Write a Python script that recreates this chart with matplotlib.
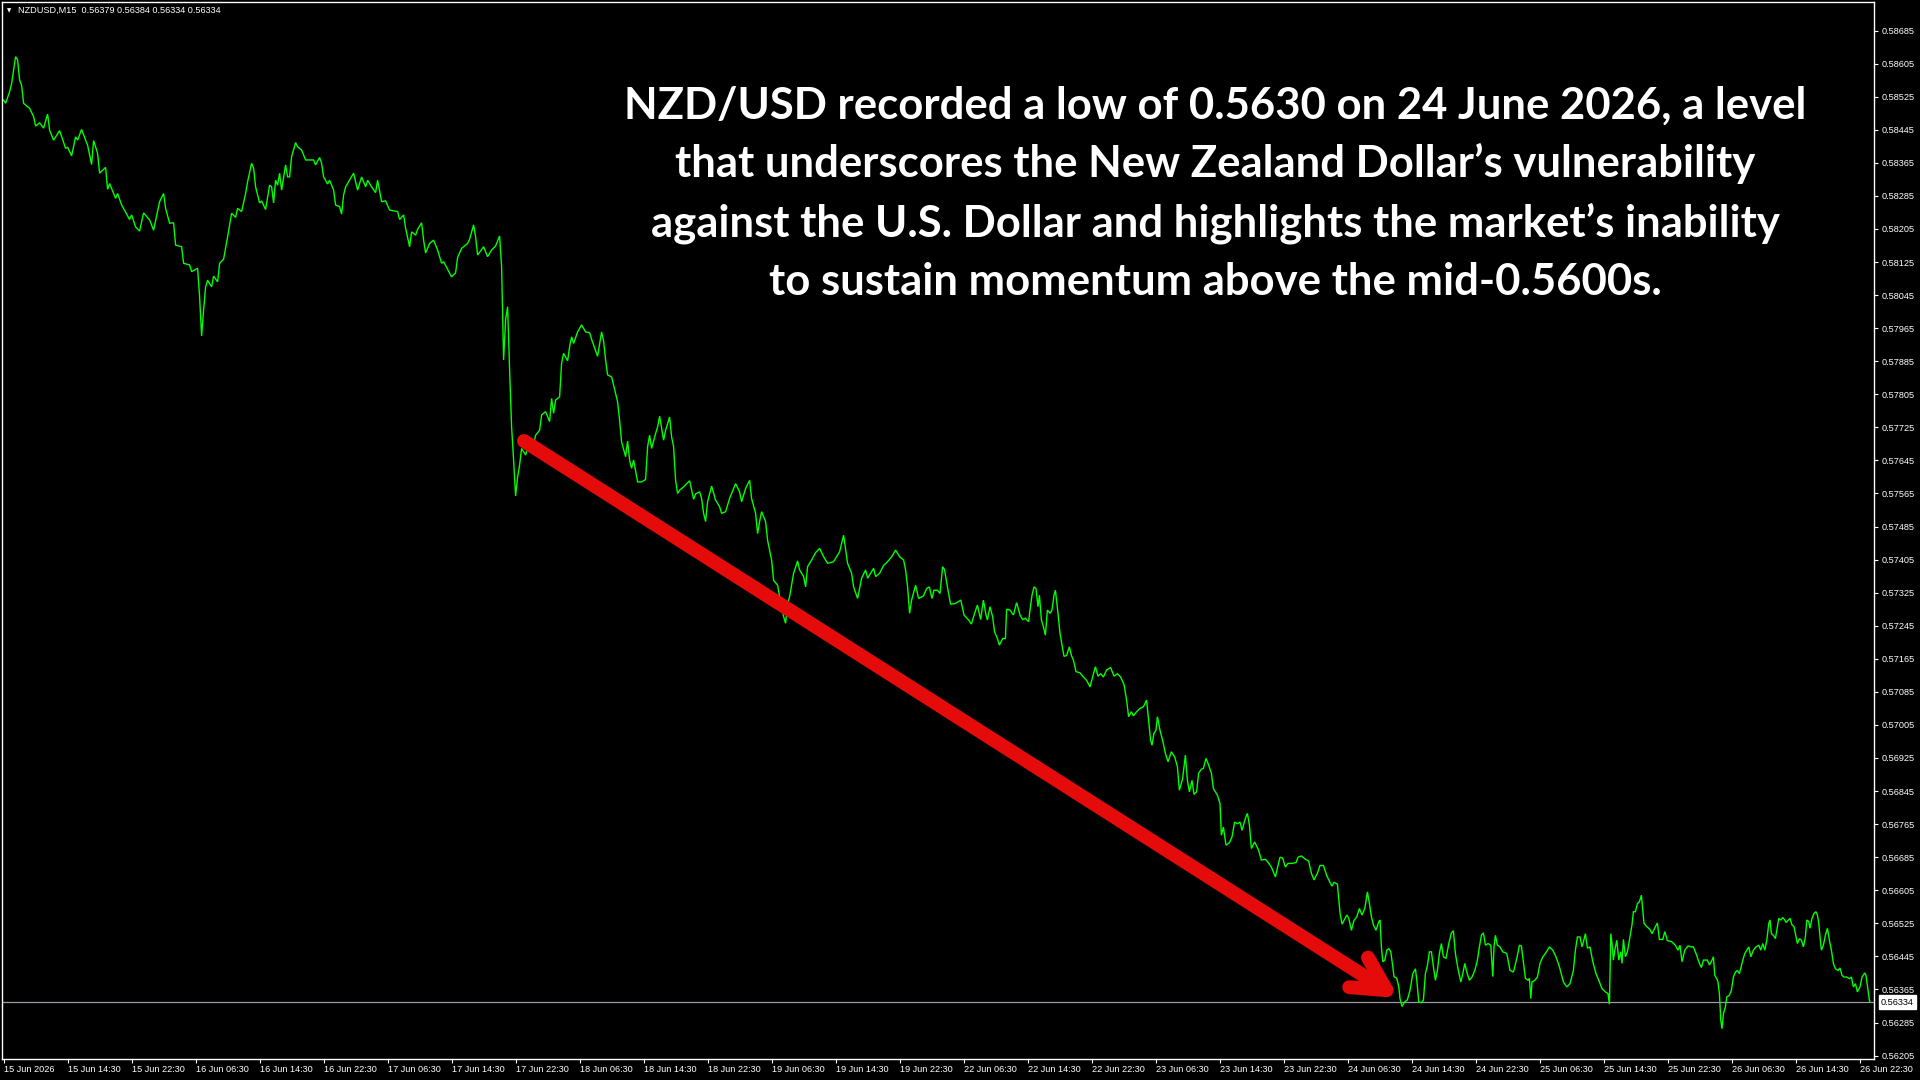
import numpy as np
import matplotlib
matplotlib.use("Agg")
import matplotlib.pyplot as plt

plt.rcParams['font.family'] = ['Liberation Sans', 'DejaVu Sans']

# ---------------- data (M15 bars, index from first bar) ----------------
bar = [0, 1, 3, 4, 6, 7, 8, 9, 10, 13, 15, 16, 18, 20, 22, 23, 25, 28, 31, 32, 34, 36, 37, 39, 41, 42, 44, 45, 47, 48,
       51, 52, 53, 56, 57, 59, 63, 64, 66, 68, 70, 73, 75, 78, 80, 81, 83, 85, 86, 89, 90, 93, 94, 97, 98, 99, 100, 101,
       102, 104, 105, 107, 108, 110, 112, 114, 116, 117, 119, 121, 122, 124, 125, 126, 128, 129, 131, 133, 134, 135, 136,
       137, 138, 139, 141, 142, 143, 144, 146, 147, 149, 151, 155, 156, 158, 159, 160, 162, 163, 165, 166, 168, 169, 170,
       171, 175, 177, 179, 181, 182, 184, 186, 187, 189, 191, 193, 197, 198, 200, 201, 203, 204, 206, 207, 209, 210, 211,
       213, 215, 217, 219, 220, 224, 226, 227, 229, 232, 233, 235, 236, 237, 240, 242, 244, 246, 248, 249, 250, 251, 252,
       253, 254, 255, 256, 257, 258, 259, 261, 262, 264, 266, 268, 269, 271, 273, 274, 275, 276, 278, 279, 280, 282, 283,
       284, 285, 287, 289, 291, 293, 294, 297, 299, 300, 301, 302, 304, 306, 307, 308, 309, 311, 312, 313, 314, 315, 317,
       319, 321, 322, 323, 324, 326, 327, 328, 330, 331, 333, 334, 335, 336, 337, 338, 340, 343, 345, 346, 348, 349, 350,
       351, 352, 354, 356, 358, 359, 361, 363, 364, 366, 368, 369, 371, 373, 374, 376, 377, 378, 379, 381, 382, 384, 385,
       387, 388, 390, 391, 392, 393, 395, 397, 398, 400, 401, 402, 404, 406, 408, 410, 412, 415, 418, 420, 422, 424, 425,
       427, 429, 431, 432, 434, 435, 436, 438, 440, 442, 444, 446, 448, 450, 451, 452, 453, 454, 456,
       457.5, 459.9, 461.5, 462.9, 464.2, 465.2, 466.9, 468.2, 469.5, 470.5, 471.9, 473.5, 475.9, 478.6, 480.2, 482.5,
       483.9, 485.5, 486.9, 488.5, 489.9, 491.2, 491.9, 493.2, 494.5, 495.5, 496.9, 497.9, 499.5, 500.9, 501.5, 503.2,
       504.9, 506.5, 508.2, 509.5, 510.9, 512.5, 513.2, 514.2, 515.2, 516.2, 517.2, 517.9, 518.9, 519.9, 520.9, 521.9,
       523.2, 524.2, 525.2, 525.9, 527.2, 528.2, 529.2, 530.2, 531.5, 532.9, 533.9, 534.9, 536.2, 538.2, 539.9, 541.5,
       543.2, 544.5, 545.9, 547.2, 548.5, 549.9, 551.5, 553.5, 555.2, 556.9, 558.5, 560.2, 561.5, 562.5, 563.9, 564.9,
       566.5, 568.2, 569.9, 571.5, 572.5, 573.5, 574.2, 575.2, 576.2, 576.9, 578.2, 579.5, 580.9, 582.2, 583.9, 585.5,
       586.9, 587.9, 589.5, 590.9, 591.9, 592.9, 594.2, 595.2, 596.5, 597.5, 598.9, 599.9, 601.2, 602.5, 603.9, 604.9,
       606.9, 608.2, 608.9, 609.9, 611.2, 612.9, 614.2, 615.5, 616.9, 618.2, 619.2, 620.9, 621.9, 622.9, 623.9, 625.5,
       627.5, 628.9, 630.9, 632.2, 633.9, 635.9, 637.2, 638.2, 639.5, 640.9, 642.2, 644.2, 646.2, 647.2, 648.9, 650.9,
       652.5, 653.9, 655.2, 656.9, 658.2, 659.9, 661.6, 663.2, 664.2, 665.2, 666.9, 667.6, 668.2, 669.2, 670.2, 671.6,
       672.6, 673.9, 675.2, 676.6, 677.9, 679.2, 680.6, 681.9, 682.9, 683.9, 684.9, 686.2, 687.6, 688.2, 688.9, 689.6,
       690.6, 691.6, 692.6, 693.6, 694.6, 695.2, 696.6, 697.6, 698.2, 699.2, 700.6, 701.9, 703.2, 704.6, 705.9, 706.6,
       707.6, 708.9, 709.9, 710.9, 711.9, 712.9, 713.9, 714.9, 715.9, 716.9, 717.9, 718.9, 719.9, 721.2, 722.6, 723.9,
       724.9, 725.9, 727.2, 728.6, 729.6, 730.6, 731.6, 732.9, 734.2, 735.6, 736.9, 737.9, 738.9, 739.9, 740.9, 742.2,
       743.6, 744.6, 745.2, 745.9, 746.9, 748.2, 749.6, 751.6, 753.2, 754.9, 756.6, 757.9, 758.9, 759.9, 760.9, 762.2,
       762.9, 763.6, 764.2, 765.6, 766.9, 768.2, 769.6, 770.9, 772.9, 774.6, 776.2, 777.9, 779.9, 781.6, 783.2, 784.9,
       785.9, 786.9, 788.2, 789.2, 789.9, 790.9, 791.9, 793.2, 794.6, 796.2, 797.6, 799.2, 800.9, 802.2, 802.9, 803.6,
       804.2, 804.9, 805.6, 806.6, 807.6, 808.6, 809.2, 809.9, 810.9, 811.9, 813.2, 814.2, 814.9, 815.9, 816.9, 817.9,
       818.9, 819.6, 820.2, 821.6, 823.2, 824.2, 825.6, 826.9, 827.9, 829.6, 830.6, 831.9, 833.9, 835.9, 837.2, 838.2,
       839.2, 840.6, 842.2, 843.9, 844.9, 846.2, 847.9, 848.9,
       849.9, 851.9, 852.9, 854.2, 854.9, 855.6, 856.6, 857.2, 857.9, 858.6, 859.2, 859.9, 860.9, 861.6, 862.9, 863.9,
       864.9, 865.9, 866.9, 867.9, 869.6, 870.6, 871.6, 872.6, 873.6, 874.9, 876.2, 877.6, 878.6, 879.6, 880.6, 881.6,
       882.6, 883.2, 883.9, 884.9, 885.9, 886.9, 887.6, 888.6, 889.6, 890.6, 891.2, 892.2, 893.2, 894.2, 895.2, 895.9,
       896.9, 897.9, 898.9, 899.9, 900.9, 901.6, 902.6, 903.2, 904.2, 905.2, 906.2, 906.9, 907.6, 908.2, 908.9, 909.9,
       910.9, 911.9, 912.9, 913.9, 914.9, 915.9, 917.2, 918.2, 919.2, 920.2, 921.6, 922.9, 923.9, 924.9, 925.9, 926.9,
       928.2, 929.2, 930.6, 931.2, 932.2, 932.9, 933.2]

close = [0.58517, 0.58509, 0.58537, 0.58557, 0.58622, 0.58614, 0.58565, 0.58553, 0.58509, 0.58497, 0.58477, 0.58454,
         0.58462, 0.58449, 0.58483, 0.58444, 0.58420, 0.58443, 0.58400, 0.58403, 0.58382, 0.58428, 0.58420, 0.58446,
         0.58420, 0.58408, 0.58361, 0.58419, 0.58388, 0.58340, 0.58354, 0.58301, 0.58315, 0.58279, 0.58291, 0.58263,
         0.58228, 0.58239, 0.58210, 0.58200, 0.58244, 0.58227, 0.58202, 0.58271, 0.58291, 0.58255, 0.58219, 0.58220,
         0.58166, 0.58162, 0.58122, 0.58118, 0.58102, 0.58110, 0.58041, 0.57946, 0.58009, 0.58065, 0.58081, 0.58065,
         0.58091, 0.58077, 0.58122, 0.58132, 0.58186, 0.58243, 0.58233, 0.58255, 0.58247, 0.58291, 0.58319, 0.58364,
         0.58352, 0.58307, 0.58268, 0.58273, 0.58252, 0.58311, 0.58307, 0.58268, 0.58323, 0.58311, 0.58340, 0.58299,
         0.58360, 0.58331, 0.58331, 0.58380, 0.58414, 0.58404, 0.58396, 0.58372, 0.58372, 0.58360, 0.58378, 0.58364,
         0.58331, 0.58314, 0.58323, 0.58299, 0.58263, 0.58259, 0.58241, 0.58287, 0.58307, 0.58340, 0.58299, 0.58331,
         0.58307, 0.58323, 0.58307, 0.58293, 0.58323, 0.58271, 0.58273, 0.58251, 0.58247, 0.58228, 0.58239, 0.58207,
         0.58162, 0.58198, 0.58190, 0.58204, 0.58220, 0.58178, 0.58147, 0.58170, 0.58178, 0.58154, 0.58122, 0.58126,
         0.58089, 0.58099, 0.58136, 0.58158, 0.58170, 0.58180, 0.58215, 0.58186, 0.58142, 0.58162, 0.58138, 0.58154,
         0.58164, 0.58188, 0.58114, 0.57888, 0.57985, 0.58017, 0.57864, 0.57726, 0.57646, 0.57559, 0.57605, 0.57634,
         0.57674, 0.57658, 0.57678, 0.57662, 0.57706, 0.57718, 0.57755, 0.57763, 0.57739, 0.57795, 0.57759, 0.57791,
         0.57799, 0.57880, 0.57904, 0.57886, 0.57920, 0.57944, 0.57928, 0.57956, 0.57973, 0.57956, 0.57954, 0.57938,
         0.57897, 0.57956, 0.57934, 0.57888, 0.57852, 0.57847, 0.57807, 0.57787, 0.57742, 0.57690, 0.57654, 0.57692,
         0.57646, 0.57626, 0.57646, 0.57593, 0.57593, 0.57599, 0.57678, 0.57706, 0.57674, 0.57710, 0.57726, 0.57752,
         0.57694, 0.57718, 0.57750, 0.57702, 0.57678, 0.57597, 0.57565, 0.57573, 0.57581, 0.57596, 0.57551, 0.57564,
         0.57569, 0.57553, 0.57517, 0.57497, 0.57545, 0.57583, 0.57549, 0.57533, 0.57517, 0.57521, 0.57553, 0.57565,
         0.57589, 0.57569, 0.57545, 0.57577, 0.57597, 0.57553, 0.57517, 0.57468, 0.57497, 0.57521, 0.57497, 0.57452,
         0.57404, 0.57355, 0.57343, 0.57315, 0.57267, 0.57251, 0.57299, 0.57315, 0.57372, 0.57402, 0.57380, 0.57364,
         0.57339, 0.57388, 0.57404, 0.57422, 0.57432, 0.57412, 0.57396, 0.57400, 0.57424, 0.57464, 0.57396, 0.57372,
         0.57339, 0.57311, 0.57360, 0.57380, 0.57360, 0.57376, 0.57384, 0.57364, 0.57372, 0.57391, 0.57400, 0.57412,
         0.57428, 0.57412, 0.57404, 0.57380, 0.57339, 0.57275, 0.57307, 0.57343,
         0.57311, 0.57317, 0.57335, 0.57339, 0.57311, 0.57331, 0.57331, 0.57323, 0.57388, 0.57380, 0.57339, 0.57297,
         0.57299, 0.57307, 0.57271, 0.57259, 0.57249, 0.57275, 0.57295, 0.57260, 0.57307, 0.57271, 0.57259, 0.57291,
         0.57267, 0.57230, 0.57214, 0.57198, 0.57214, 0.57214, 0.57285, 0.57283, 0.57271, 0.57301, 0.57271, 0.57260,
         0.57263, 0.57255, 0.57283, 0.57319, 0.57339, 0.57335, 0.57291, 0.57319, 0.57259, 0.57243, 0.57222, 0.57283,
         0.57275, 0.57283, 0.57319, 0.57331, 0.57275, 0.57227, 0.57198, 0.57171, 0.57173, 0.57194, 0.57173, 0.57162,
         0.57134, 0.57131, 0.57121, 0.57113, 0.57097, 0.57121, 0.57146, 0.57123, 0.57129, 0.57121, 0.57138, 0.57144,
         0.57123, 0.57129, 0.57121, 0.57103, 0.57065, 0.57025, 0.57037, 0.57027, 0.57037, 0.57045, 0.57049, 0.57065,
         0.57017, 0.56968, 0.56956, 0.56985, 0.56992, 0.57025, 0.56992, 0.56968, 0.56936, 0.56916, 0.56940, 0.56928,
         0.56904, 0.56847, 0.56875, 0.56932, 0.56871, 0.56843, 0.56871, 0.56837, 0.56843, 0.56888, 0.56898, 0.56900,
         0.56924, 0.56908, 0.56888, 0.56851, 0.56835, 0.56815, 0.56738, 0.56758, 0.56714, 0.56720, 0.56734, 0.56770,
         0.56766, 0.56770, 0.56750, 0.56779, 0.56791, 0.56763, 0.56706, 0.56722, 0.56702, 0.56678, 0.56680, 0.56673,
         0.56661, 0.56637, 0.56665, 0.56685, 0.56683, 0.56661, 0.56670, 0.56670, 0.56672, 0.56685, 0.56688, 0.56680,
         0.56676, 0.56646, 0.56630, 0.56646, 0.56665, 0.56665, 0.56640, 0.56624, 0.56615, 0.56624, 0.56620, 0.56583,
         0.56551, 0.56523, 0.56532, 0.56545, 0.56537, 0.56508, 0.56532, 0.56541, 0.56561, 0.56545, 0.56561, 0.56601,
         0.56573, 0.56541, 0.56521, 0.56508, 0.56529, 0.56533, 0.56468, 0.56432, 0.56436, 0.56460, 0.56464, 0.56456,
         0.56420, 0.56396, 0.56392, 0.56371, 0.56343, 0.56324, 0.56335, 0.56340, 0.56363, 0.56403, 0.56415, 0.56387,
         0.56335, 0.56333, 0.56339, 0.56403, 0.56423, 0.56456, 0.56456, 0.56420, 0.56387, 0.56411, 0.56452, 0.56476,
         0.56444, 0.56440, 0.56476, 0.56502, 0.56507, 0.56452, 0.56415, 0.56383, 0.56403, 0.56428, 0.56407, 0.56387,
         0.56395, 0.56411, 0.56436, 0.56468, 0.56496, 0.56502, 0.56472, 0.56476, 0.56472, 0.56396, 0.56468, 0.56496,
         0.56472, 0.56468, 0.56456, 0.56452, 0.56411, 0.56407, 0.56440, 0.56472, 0.56470, 0.56432, 0.56392, 0.56387,
         0.56392, 0.56343, 0.56383, 0.56387, 0.56395, 0.56428, 0.56444, 0.56452, 0.56468, 0.56460, 0.56444, 0.56420,
         0.56383, 0.56371, 0.56379, 0.56411, 0.56460, 0.56492, 0.56492, 0.56468, 0.56480, 0.56500, 0.56465, 0.56468,
         0.56432, 0.56403, 0.56387, 0.56367, 0.56359, 0.56355, 0.56329, 0.56500, 0.56476, 0.56436, 0.56460, 0.56484,
         0.56436, 0.56456, 0.56428, 0.56486, 0.56444, 0.56456, 0.56492, 0.56521, 0.56553, 0.56553, 0.56573, 0.56577,
         0.56593, 0.56557, 0.56525, 0.56517, 0.56510, 0.56500, 0.56514, 0.56526, 0.56486, 0.56486, 0.56505, 0.56483,
         0.56481, 0.56472, 0.56460, 0.56472, 0.56432, 0.56460, 0.56470, 0.56468, 0.56468, 0.56452, 0.56428, 0.56418,
         0.56436, 0.56436, 0.56424, 0.56436, 0.56444, 0.56399, 0.56391, 0.56383, 0.56355, 0.56290, 0.56270, 0.56306,
         0.56323, 0.56347, 0.56351, 0.56363, 0.56395, 0.56407, 0.56411, 0.56403, 0.56436, 0.56452, 0.56460, 0.56468,
         0.56444, 0.56460, 0.56468, 0.56472, 0.56460, 0.56476, 0.56460, 0.56484, 0.56525, 0.56533, 0.56500, 0.56496,
         0.56488, 0.56517, 0.56537, 0.56533, 0.56539, 0.56533, 0.56527, 0.56532, 0.56537, 0.56521, 0.56517, 0.56500,
         0.56476, 0.56488, 0.56484, 0.56468, 0.56492, 0.56533, 0.56529, 0.56513, 0.56537, 0.56549, 0.56553, 0.56545,
         0.56525, 0.56492, 0.56460, 0.56472, 0.56496, 0.56513, 0.56484, 0.56460, 0.56428, 0.56415, 0.56411, 0.56417,
         0.56399, 0.56395, 0.56395, 0.56391, 0.56395, 0.56371, 0.56379, 0.56359, 0.56371, 0.56395, 0.56405, 0.56399,
         0.56363, 0.56339, 0.56334]

x_labels = ['15 Jun 2026', '15 Jun 14:30', '15 Jun 22:30', '16 Jun 06:30', '16 Jun 14:30', '16 Jun 22:30',
            '17 Jun 06:30', '17 Jun 14:30', '17 Jun 22:30', '18 Jun 06:30', '18 Jun 14:30', '18 Jun 22:30',
            '19 Jun 06:30', '19 Jun 14:30', '19 Jun 22:30', '22 Jun 06:30', '22 Jun 14:30', '22 Jun 22:30',
            '23 Jun 06:30', '23 Jun 14:30', '23 Jun 22:30', '24 Jun 06:30', '24 Jun 14:30', '24 Jun 22:30',
            '25 Jun 06:30', '25 Jun 14:30', '25 Jun 22:30', '26 Jun 06:30', '26 Jun 14:30', '26 Jun 22:30']
bars_per_label = 32

y_ticks = [0.58685, 0.58605, 0.58525, 0.58445, 0.58365, 0.58285, 0.58205, 0.58125, 0.58045, 0.57965, 0.57885,
           0.57805, 0.57725, 0.57645, 0.57565, 0.57485, 0.57405, 0.57325, 0.57245, 0.57165, 0.57085, 0.57005,
           0.56925, 0.56845, 0.56765, 0.56685, 0.56605, 0.56525, 0.56445, 0.56365, 0.56285, 0.56205]

header = "NZDUSD,M15  0.56379 0.56384 0.56334 0.56334"
last_price = 0.56334

title_lines = ["NZD/USD recorded a low of 0.5630 on 24 June 2026, a level",
               "that underscores the New Zealand Dollar\u2019s vulnerability",
               "against the U.S. Dollar and highlights the market\u2019s inability",
               "to sustain momentum above the mid-0.5600s."]

# arrow annotation (bar index, price)
arrow_start = (260.2, 0.57692)
arrow_end = (697.7, 0.56344)

# ---------------- figure ----------------
W, H = 1920, 1080
fig = plt.figure(figsize=(W / 100, H / 100), dpi=100, facecolor='black')
ax = fig.add_axes([2 / W, 1 - 1059 / H, (1874 - 2) / W, (1059 - 2) / H])
ax.set_facecolor('black')

ax.plot(bar, close, color='#00ff00', lw=1.0, solid_joinstyle='miter')
ax.axhline(last_price, color='#9a9aa4', lw=0.9, zorder=1)

ax.set_xlim(-0.8, 935.2)
ax.set_ylim(0.561967, 0.587542)

for s in ax.spines.values():
    s.set_color('white')
    s.set_linewidth(1.0)

ax.yaxis.tick_right()
ax.set_yticks(y_ticks)
ax.set_yticklabels([f"{v:.5f}" for v in y_ticks])
ax.tick_params(axis='y', colors='white', length=3, width=0.8, pad=2.2, labelsize=6.6, direction='out')

xt = [i * bars_per_label for i in range(len(x_labels))]
ax.set_xticks(xt)
ax.set_xticklabels(x_labels, ha='left')
ax.tick_params(axis='x', colors='white', length=3, width=0.8, pad=1.0, labelsize=6.6, direction='out')

# current price label
ax.annotate(f"{last_price:.5f}", xy=(1, last_price), xycoords=ax.get_yaxis_transform(),
            xytext=(5, 0), textcoords='offset points', ha='left', va='center',
            fontsize=6.6, color='black', annotation_clip=False,
            bbox=dict(boxstyle='square,pad=0.25', fc='white', ec='white'))

# header
fig.text(9 / W, 1 - 10.5 / H, '\u25BC', color='white', fontsize=4, ha='center', va='center',
         family='DejaVu Sans')
fig.text(18 / W, 1 - 10.5 / H, header, color='white', fontsize=6.6, ha='left', va='center')

# arrow
ax.annotate('', xy=arrow_end, xytext=arrow_start,
            arrowprops=dict(arrowstyle='->,head_length=1.7,head_width=0.9', color='#e50b0b',
                            lw=10, shrinkA=0, shrinkB=0, capstyle='round', joinstyle='round',
                            mutation_scale=14))

# title text
baselines = [118.5, 177.3, 236.1, 294.9]
for line, b in zip(title_lines, baselines):
    fig.text(1215 / W, 1 - b / H, line, color='white', fontsize=31.4, fontweight='bold',
             family=['Lato', 'DejaVu Sans'], ha='center', va='baseline')

fig.savefig('out.png', dpi=100, facecolor='black')
